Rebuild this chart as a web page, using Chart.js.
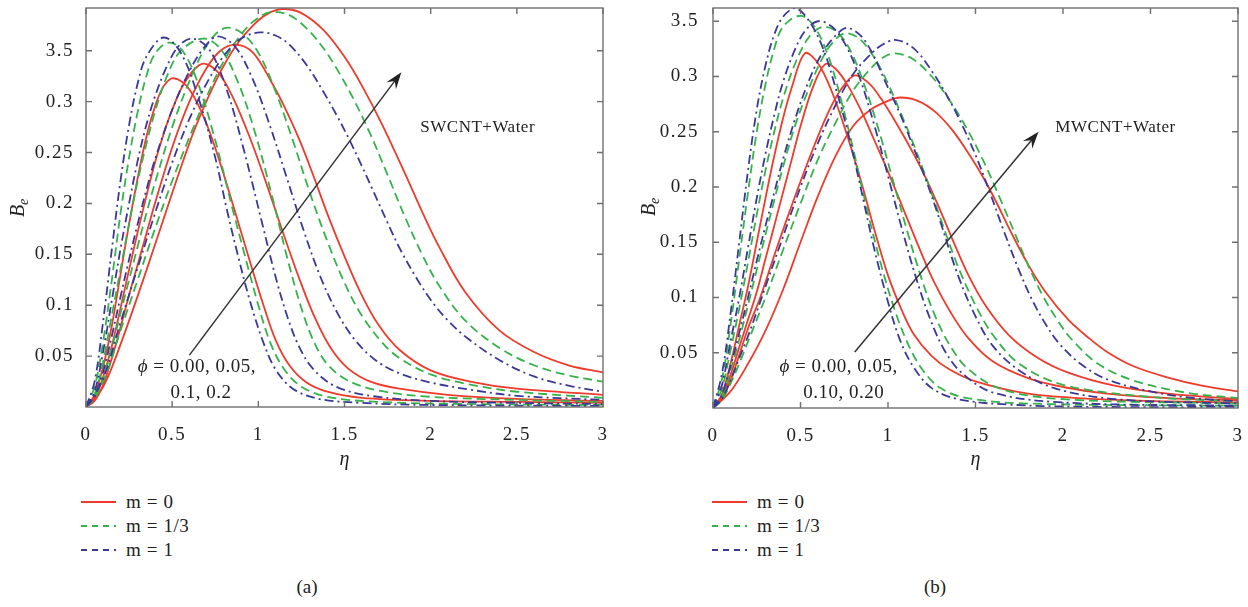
<!DOCTYPE html>
<html>
<head>
<meta charset="utf-8">
<title>Perfiles B_e</title>
<script src="https://cdn.jsdelivr.net/npm/chart.js@4.4.1/dist/chart.umd.min.js"></script>
<style>
  html, body { margin: 0; padding: 0; background: #fff; }
  body { width: 1248px; height: 607px; position: relative; overflow: hidden; font-family: "Liberation Serif", "DejaVu Serif", serif; color: #222; }
  canvas { position: absolute; top: 0; }
  #grafA { left: 0; }
  #grafB { left: 624px; }
  .leyenda { position: absolute; top: 490px; font-size: 19px; letter-spacing: 0.6px; }
  .leyenda div { display: flex; align-items: center; height: 24px; white-space: pre; }
  .leyenda svg { margin-right: 10px; }
  .rotulo { position: absolute; top: 576px; font-size: 19px; width: 40px; text-align: center; }
</style>
</head>
<body>
<canvas id="grafA" width="624" height="475"></canvas>
<canvas id="grafB" width="624" height="475"></canvas>
<div class="leyenda" id="leyendaA" style="left:81px"></div>
<div class="leyenda" id="leyendaB" style="left:712px"></div>
<div class="rotulo" style="left:287px">(a)</div>
<div class="rotulo" style="left:915px">(b)</div>
<script>
// ejes
const etaTicks = [0, 0.5, 1, 1.5, 2, 2.5, 3];
const etaLabels = ["0", "0.5", "1", "1.5", "2", "2.5", "3"];
const beTicks = [0.05, 0.1, 0.15, 0.2, 0.25, 0.3, 0.35];
const beLabels = ["0.05", "0.1", "0.15", "0.2", "0.25", "0.3", "3.5"];
const mLabels = ["m = 0", "m = 1/3", "m = 1"];

// (a) SWCNT+Water  -> pares [eta, Be], phi = 0.00, 0.05, 0.1, 0.2
const a_m0_p0 = [[0,0],[0.05,0.012],[0.1,0.04],[0.15,0.08],[0.2,0.13],[0.25,0.18],[0.3,0.225],[0.35,0.265],[0.4,0.295],[0.45,0.315],[0.51,0.323],[0.6,0.312],[0.7,0.278],[0.8,0.228],[0.9,0.172],[0.96,0.138],[1.03,0.1],[1.1,0.066],[1.18,0.041],[1.28,0.024],[1.4,0.015],[1.6,0.009],[2,0.006],[2.5,0.005],[3,0.004]];
const a_m13_p0 = [[0,0],[0.05,0.02],[0.1,0.065],[0.15,0.125],[0.2,0.19],[0.25,0.245],[0.3,0.29],[0.35,0.325],[0.4,0.347],[0.48,0.358],[0.56,0.35],[0.65,0.318],[0.75,0.262],[0.85,0.195],[0.92,0.15],[1.0,0.1],[1.07,0.063],[1.15,0.037],[1.25,0.02],[1.4,0.01],[1.7,0.005],[2.2,0.003],[3,0.002]];
const a_m1_p0 = [[0,0],[0.05,0.025],[0.1,0.085],[0.15,0.155],[0.2,0.222],[0.25,0.277],[0.3,0.318],[0.35,0.344],[0.45,0.363],[0.55,0.348],[0.65,0.305],[0.75,0.245],[0.82,0.192],[0.88,0.15],[0.95,0.105],[1.03,0.063],[1.1,0.037],[1.2,0.018],[1.35,0.008],[1.6,0.004],[2,0.002],[3,0.001]];

const a_m0_p1 = [[0,0],[0.05,0.008],[0.1,0.03],[0.15,0.06],[0.2,0.097],[0.25,0.135],[0.3,0.172],[0.35,0.207],[0.4,0.24],[0.45,0.268],[0.5,0.292],[0.57,0.318],[0.67,0.337],[0.76,0.33],[0.85,0.305],[0.95,0.265],[1.05,0.218],[1.15,0.168],[1.24,0.125],[1.33,0.087],[1.42,0.058],[1.52,0.038],[1.65,0.025],[1.82,0.018],[2.1,0.012],[2.5,0.008],[3,0.006]];
const a_m13_p1 = [[0,0],[0.05,0.012],[0.1,0.045],[0.15,0.09],[0.2,0.135],[0.25,0.18],[0.3,0.222],[0.35,0.258],[0.4,0.29],[0.47,0.325],[0.55,0.35],[0.68,0.362],[0.78,0.352],[0.88,0.32],[0.98,0.27],[1.08,0.207],[1.17,0.145],[1.25,0.097],[1.32,0.065],[1.4,0.042],[1.52,0.026],[1.7,0.016],[2,0.01],[2.5,0.007],[3,0.005]];
const a_m1_p1 = [[0,0],[0.05,0.015],[0.1,0.055],[0.15,0.105],[0.2,0.155],[0.25,0.2],[0.3,0.242],[0.35,0.277],[0.4,0.305],[0.47,0.335],[0.54,0.355],[0.62,0.362],[0.72,0.35],[0.82,0.31],[0.92,0.25],[1.02,0.182],[1.1,0.128],[1.17,0.088],[1.24,0.058],[1.32,0.037],[1.45,0.02],[1.65,0.011],[2,0.006],[2.5,0.004],[3,0.003]];

const a_m0_p2 = [[0,0],[0.05,0.006],[0.1,0.022],[0.15,0.048],[0.2,0.078],[0.25,0.11],[0.3,0.14],[0.35,0.17],[0.4,0.2],[0.5,0.255],[0.6,0.3],[0.7,0.333],[0.78,0.35],[0.87,0.356],[0.97,0.348],[1.08,0.318],[1.16,0.292],[1.24,0.262],[1.32,0.227],[1.4,0.19],[1.5,0.148],[1.6,0.11],[1.7,0.08],[1.82,0.056],[2.0,0.036],[2.23,0.025],[2.5,0.018],[3,0.012]];
const a_m13_p2 = [[0,0],[0.05,0.008],[0.1,0.028],[0.15,0.058],[0.2,0.092],[0.25,0.125],[0.3,0.158],[0.35,0.19],[0.4,0.22],[0.5,0.275],[0.6,0.32],[0.7,0.355],[0.8,0.372],[0.9,0.368],[1.0,0.348],[1.1,0.31],[1.2,0.262],[1.3,0.21],[1.4,0.163],[1.5,0.122],[1.6,0.09],[1.72,0.063],[1.82,0.048],[2.0,0.032],[2.23,0.022],[2.5,0.015],[3,0.009]];
const a_m1_p2 = [[0,0],[0.05,0.01],[0.1,0.035],[0.15,0.07],[0.2,0.108],[0.25,0.145],[0.3,0.18],[0.35,0.213],[0.4,0.243],[0.5,0.292],[0.6,0.33],[0.68,0.352],[0.76,0.364],[0.86,0.355],[0.96,0.325],[1.06,0.28],[1.16,0.228],[1.26,0.175],[1.36,0.128],[1.46,0.092],[1.56,0.066],[1.68,0.046],[1.82,0.033],[2.0,0.024],[2.23,0.017],[2.5,0.011],[3,0.007]];

const a_m0_p3 = [[0,0],[0.1,0.02],[0.21,0.066],[0.35,0.134],[0.48,0.2],[0.56,0.24],[0.64,0.277],[0.77,0.326],[0.87,0.355],[0.97,0.375],[1.05,0.386],[1.14,0.391],[1.25,0.387],[1.38,0.37],[1.5,0.344],[1.6,0.316],[1.72,0.277],[1.86,0.226],[1.95,0.192],[2.05,0.157],[2.2,0.113],[2.4,0.075],[2.6,0.054],[2.8,0.041],[3,0.034]];
const a_m13_p3 = [[0,0],[0.1,0.025],[0.2,0.075],[0.3,0.125],[0.4,0.175],[0.5,0.222],[0.6,0.265],[0.7,0.305],[0.8,0.34],[0.9,0.366],[0.98,0.38],[1.07,0.388],[1.18,0.385],[1.28,0.372],[1.38,0.352],[1.47,0.328],[1.56,0.3],[1.65,0.268],[1.75,0.228],[1.85,0.187],[1.95,0.15],[2.05,0.119],[2.2,0.085],[2.4,0.058],[2.6,0.041],[2.8,0.031],[3,0.025]];
const a_m1_p3 = [[0,0],[0.1,0.028],[0.2,0.083],[0.3,0.137],[0.4,0.19],[0.5,0.24],[0.6,0.283],[0.7,0.318],[0.8,0.345],[0.9,0.362],[1.01,0.368],[1.1,0.365],[1.18,0.356],[1.28,0.336],[1.38,0.309],[1.46,0.285],[1.53,0.262],[1.6,0.237],[1.67,0.211],[1.75,0.181],[1.82,0.156],[1.92,0.126],[2.01,0.103],[2.1,0.085],[2.21,0.068],[2.4,0.046],[2.6,0.03],[2.8,0.021],[3,0.015]];

// (b) MWCNT+Water, phi = 0.00, 0.05, 0.10, 0.20
const b_m0_p0 = [[0,0],[0.05,0.012],[0.1,0.04],[0.15,0.075],[0.2,0.11],[0.25,0.15],[0.3,0.19],[0.35,0.228],[0.4,0.262],[0.45,0.29],[0.525,0.321],[0.6,0.312],[0.68,0.286],[0.76,0.25],[0.85,0.203],[0.93,0.157],[1.0,0.12],[1.08,0.088],[1.15,0.066],[1.25,0.047],[1.35,0.035],[1.5,0.024],[1.8,0.013],[2.2,0.008],[2.6,0.006],[3,0.005]];
const b_m13_p0 = [[0,0],[0.05,0.025],[0.1,0.075],[0.15,0.135],[0.2,0.195],[0.25,0.25],[0.3,0.293],[0.35,0.325],[0.4,0.345],[0.5,0.355],[0.58,0.345],[0.66,0.318],[0.73,0.28],[0.8,0.235],[0.88,0.18],[0.96,0.13],[1.04,0.088],[1.12,0.056],[1.2,0.034],[1.3,0.018],[1.45,0.009],[1.8,0.004],[3,0.002]];
const b_m1_p0 = [[0,0],[0.05,0.03],[0.1,0.085],[0.15,0.15],[0.2,0.215],[0.25,0.27],[0.3,0.31],[0.35,0.338],[0.4,0.354],[0.47,0.362],[0.55,0.35],[0.63,0.325],[0.7,0.29],[0.77,0.25],[0.85,0.195],[0.92,0.145],[1.0,0.096],[1.07,0.061],[1.15,0.036],[1.25,0.018],[1.4,0.008],[1.7,0.003],[2.2,0.001],[3,0.001]];

const b_m0_p1 = [[0,0],[0.05,0.01],[0.1,0.03],[0.15,0.055],[0.2,0.08],[0.25,0.105],[0.3,0.135],[0.35,0.165],[0.4,0.195],[0.45,0.225],[0.5,0.255],[0.57,0.29],[0.64,0.311],[0.7,0.307],[0.77,0.292],[0.85,0.268],[0.92,0.243],[1.0,0.214],[1.08,0.183],[1.17,0.148],[1.26,0.115],[1.36,0.086],[1.46,0.063],[1.6,0.042],[1.8,0.027],[2.0,0.019],[2.25,0.013],[2.6,0.009],[3,0.007]];
const b_m13_p1 = [[0,0],[0.05,0.017],[0.1,0.052],[0.15,0.09],[0.2,0.132],[0.25,0.175],[0.3,0.215],[0.35,0.25],[0.4,0.28],[0.47,0.312],[0.55,0.336],[0.63,0.345],[0.71,0.34],[0.79,0.322],[0.87,0.29],[0.95,0.25],[1.03,0.205],[1.11,0.16],[1.19,0.118],[1.27,0.083],[1.36,0.055],[1.46,0.035],[1.65,0.017],[2,0.008],[3,0.004]];
const b_m1_p1 = [[0,0],[0.05,0.02],[0.1,0.06],[0.15,0.1],[0.2,0.145],[0.25,0.19],[0.3,0.23],[0.35,0.265],[0.4,0.295],[0.47,0.325],[0.53,0.342],[0.6,0.35],[0.68,0.345],[0.76,0.328],[0.84,0.298],[0.92,0.257],[1.0,0.21],[1.08,0.162],[1.16,0.118],[1.24,0.081],[1.32,0.053],[1.42,0.032],[1.6,0.014],[2,0.005],[3,0.002]];

const b_m0_p2 = [[0,0],[0.05,0.008],[0.1,0.025],[0.15,0.048],[0.2,0.072],[0.27,0.1],[0.35,0.138],[0.42,0.17],[0.5,0.205],[0.58,0.238],[0.66,0.268],[0.73,0.288],[0.81,0.301],[0.89,0.294],[0.96,0.28],[1.05,0.257],[1.15,0.229],[1.22,0.207],[1.29,0.182],[1.37,0.152],[1.46,0.12],[1.56,0.092],[1.69,0.066],[1.85,0.046],[2.03,0.032],[2.3,0.02],[2.6,0.013],[3,0.008]];
const b_m13_p2 = [[0,0],[0.05,0.01],[0.1,0.034],[0.15,0.062],[0.2,0.093],[0.25,0.125],[0.3,0.157],[0.35,0.188],[0.4,0.218],[0.47,0.256],[0.55,0.29],[0.62,0.315],[0.68,0.33],[0.75,0.339],[0.83,0.335],[0.91,0.32],[0.99,0.297],[1.07,0.268],[1.15,0.237],[1.23,0.203],[1.31,0.167],[1.4,0.128],[1.5,0.093],[1.6,0.066],[1.75,0.04],[2.0,0.021],[2.5,0.01],[3,0.006]];
const b_m1_p2 = [[0,0],[0.05,0.012],[0.1,0.038],[0.15,0.068],[0.2,0.1],[0.25,0.133],[0.3,0.165],[0.35,0.195],[0.4,0.225],[0.47,0.262],[0.55,0.297],[0.62,0.32],[0.7,0.337],[0.77,0.344],[0.87,0.332],[1.0,0.29],[1.08,0.262],[1.15,0.234],[1.22,0.205],[1.29,0.173],[1.4,0.12],[1.5,0.083],[1.6,0.056],[1.75,0.034],[1.95,0.018],[2.3,0.008],[3,0.004]];

const b_m0_p3 = [[0,0],[0.1,0.015],[0.2,0.04],[0.3,0.07],[0.4,0.107],[0.5,0.15],[0.6,0.192],[0.7,0.228],[0.8,0.255],[0.9,0.27],[1.0,0.278],[1.07,0.281],[1.17,0.278],[1.27,0.268],[1.37,0.251],[1.47,0.228],[1.55,0.207],[1.62,0.186],[1.7,0.16],[1.8,0.13],[1.9,0.105],[2.03,0.08],[2.15,0.063],[2.25,0.051],[2.4,0.038],[2.59,0.028],[2.8,0.02],[3,0.015]];
const b_m13_p3 = [[0,0],[0.05,0.007],[0.1,0.022],[0.15,0.04],[0.2,0.06],[0.25,0.08],[0.3,0.1],[0.4,0.143],[0.5,0.185],[0.6,0.225],[0.7,0.258],[0.8,0.287],[0.9,0.307],[0.97,0.317],[1.04,0.321],[1.14,0.316],[1.25,0.3],[1.35,0.279],[1.45,0.253],[1.55,0.222],[1.65,0.186],[1.73,0.156],[1.81,0.126],[1.89,0.1],[1.97,0.079],[2.05,0.062],[2.2,0.04],[2.4,0.025],[2.7,0.014],[3,0.009]];
const b_m1_p3 = [[0,0],[0.05,0.008],[0.1,0.025],[0.15,0.045],[0.2,0.065],[0.25,0.087],[0.3,0.11],[0.4,0.155],[0.5,0.2],[0.6,0.24],[0.7,0.274],[0.8,0.302],[0.9,0.32],[0.97,0.329],[1.05,0.333],[1.15,0.325],[1.25,0.305],[1.35,0.279],[1.43,0.254],[1.5,0.229],[1.58,0.196],[1.66,0.161],[1.74,0.128],[1.82,0.099],[1.9,0.076],[1.98,0.058],[2.1,0.04],[2.25,0.026],[2.5,0.015],[2.75,0.009],[3,0.006]];

const colores = ["#ee3b2b", "#36b24b", "#3b3898"];
const trazos = [[], [9, 5], [9, 4, 2, 4]];
const fuente = "'Liberation Serif', 'DejaVu Serif', serif";

function serie(puntos, m) {
  return {
    label: mLabels[m],
    data: puntos.map(([x, y]) => ({ x, y })),
    borderColor: colores[m],
    borderDash: trazos[m],
    borderWidth: 1.8,
    pointRadius: 0,
    fill: false,
    tension: 0.35
  };
}

// letras algo mas anchas, como en la figura original
const espaciado = {
  id: "espaciado",
  beforeDraw(chart) { chart.ctx.letterSpacing = "1.5px"; }
};

// marco, marcas hacia dentro, flechas, textos y titulos de ejes
const decorado = {
  id: "decorado",
  afterDatasetsDraw(chart, args, opts) {
    const { ctx, chartArea: a, scales: { x, y } } = chart;
    ctx.save();
    ctx.setLineDash([]);
    ctx.strokeStyle = "#6f6f6f";
    ctx.lineWidth = 1.4;
    ctx.strokeRect(a.left, a.top, a.right - a.left, a.bottom - a.top);
    ctx.beginPath();
    etaTicks.forEach(v => {
      const px = x.getPixelForValue(v);
      ctx.moveTo(px, a.bottom); ctx.lineTo(px, a.bottom - 6);
      ctx.moveTo(px, a.top); ctx.lineTo(px, a.top + 6);
    });
    beTicks.forEach(v => {
      const py = y.getPixelForValue(v);
      ctx.moveTo(a.left, py); ctx.lineTo(a.left + 6, py);
      ctx.moveTo(a.right, py); ctx.lineTo(a.right - 6, py);
    });
    ctx.stroke();

    // flecha
    const x0 = x.getPixelForValue(opts.flecha[0][0]), y0 = y.getPixelForValue(opts.flecha[0][1]);
    const x1 = x.getPixelForValue(opts.flecha[1][0]), y1 = y.getPixelForValue(opts.flecha[1][1]);
    const c = Math.cos(Math.atan2(y1 - y0, x1 - x0)), s = Math.sin(Math.atan2(y1 - y0, x1 - x0));
    ctx.strokeStyle = "#333";
    ctx.fillStyle = "#222";
    ctx.lineWidth = 1.5;
    ctx.beginPath();
    ctx.moveTo(x0, y0);
    ctx.lineTo(x1 - 9 * c, y1 - 9 * s);
    ctx.stroke();
    ctx.beginPath();
    ctx.moveTo(x1, y1);
    ctx.lineTo(x1 - 17 * c + 6 * s, y1 - 17 * s - 6 * c);
    ctx.lineTo(x1 - 11 * c, y1 - 11 * s);
    ctx.lineTo(x1 - 17 * c - 6 * s, y1 - 17 * s + 6 * c);
    ctx.closePath();
    ctx.fill();

    // textos
    ctx.letterSpacing = "0.5px";
    ctx.textBaseline = "middle";
    ctx.textAlign = "left";
    opts.textos.forEach(t => {
      let px = x.getPixelForValue(t.en[0]);
      const py = y.getPixelForValue(t.en[1]);
      t.partes.forEach(p => {
        ctx.font = (p.cursiva ? "italic " : "") + t.tam + "px " + fuente;
        ctx.fillText(p.txt, px, py);
        px += ctx.measureText(p.txt).width;
      });
    });

    // titulos
    ctx.letterSpacing = "0px";
    ctx.fillStyle = "#222";
    ctx.textAlign = "center";
    ctx.font = "italic 20px " + fuente;
    ctx.fillText("η", (a.left + a.right) / 2, opts.etaY);
    ctx.translate(opts.beX, opts.beY);
    ctx.rotate(-Math.PI / 2);
    ctx.textAlign = "left";
    ctx.font = "italic 20px " + fuente;
    const wB = ctx.measureText("B").width;
    ctx.fillText("B", -wB / 2 - 3, 0);
    ctx.font = "italic 14px " + fuente;
    ctx.fillText("e", wB / 2 - 3, 5);
    ctx.restore();
  }
};

function crearGrafico(id, grupos, yMax, anchoY, altoX, pad, padTickY, deco) {
  const series = [];
  [2, 1, 0].forEach(m => grupos[m].forEach(p => series.push(serie(p, m))));
  return new Chart(document.getElementById(id), {
    type: "line",
    data: { datasets: series },
    options: {
      responsive: false,
      animation: false,
      layout: { padding: pad },
      plugins: { legend: { display: false }, tooltip: { enabled: false }, decorado: deco },
      scales: {
        x: {
          type: "linear", min: 0, max: 3,
          afterBuildTicks: s => { s.ticks = etaTicks.map(v => ({ value: v })); },
          afterFit: s => { s.height = altoX; s.paddingLeft = 0; s.paddingRight = 0; },
          ticks: { callback: v => etaLabels[etaTicks.indexOf(v)], font: { family: fuente, size: 19 }, color: "#222", padding: 9, maxRotation: 0, autoSkip: false },
          grid: { display: false },
          border: { display: false }
        },
        y: {
          type: "linear", min: 0, max: yMax,
          afterBuildTicks: s => { s.ticks = beTicks.map(v => ({ value: v })); },
          afterFit: s => { s.width = anchoY; s.paddingTop = 0; s.paddingBottom = 0; },
          ticks: { callback: v => beLabels[beTicks.indexOf(v)], font: { family: fuente, size: 19 }, color: "#222", padding: padTickY, autoSkip: false },
          grid: { display: false },
          border: { display: false }
        }
      }
    },
    plugins: [espaciado, decorado]
  });
}

crearGrafico("grafA",
  [[a_m0_p0, a_m0_p1, a_m0_p2, a_m0_p3], [a_m13_p0, a_m13_p1, a_m13_p2, a_m13_p3], [a_m1_p0, a_m1_p1, a_m1_p2, a_m1_p3]],
  0.392, 86, 68, { top: 8, right: 21, left: 0, bottom: 0 }, 4,
  {
    flecha: [[0.6, 0.051], [1.83, 0.329]],
    etaY: 460, beX: 19, beY: 208,
    textos: [
      { en: [1.94, 0.2745], tam: 17, partes: [{ txt: "SWCNT+Water" }] },
      { en: [0.30, 0.039], tam: 19, partes: [{ txt: "ϕ", cursiva: true }, { txt: " = 0.00, 0.05," }] },
      { en: [0.49, 0.0137], tam: 19, partes: [{ txt: "0.1, 0.2" }] }
    ]
  });

crearGrafico("grafB",
  [[b_m0_p0, b_m0_p1, b_m0_p2, b_m0_p3], [b_m13_p0, b_m13_p1, b_m13_p2, b_m13_p3], [b_m1_p0, b_m1_p1, b_m1_p2, b_m1_p3]],
  0.362, 89, 67, { top: 8, right: 10, left: 0, bottom: 0 }, 6,
  {
    flecha: [[0.81, 0.0506], [1.86, 0.25]],
    etaY: 460, beX: 26, beY: 207,
    textos: [
      { en: [1.956, 0.254], tam: 17, partes: [{ txt: "MWCNT+Water" }] },
      { en: [0.38, 0.037], tam: 19, partes: [{ txt: "ϕ", cursiva: true }, { txt: " = 0.00, 0.05," }] },
      { en: [0.515, 0.0136], tam: 19, partes: [{ txt: "0.10, 0.20" }] }
    ]
  });

// leyendas en HTML
function leyenda(id) {
  const caja = document.getElementById(id);
  mLabels.forEach((txt, m) => {
    const fila = document.createElement("div");
    const dash = m === 0 ? "" : "6 5";
    fila.innerHTML = `<svg width="35" height="6"><line x1="0" y1="3" x2="35" y2="3" stroke="${colores[m]}" stroke-width="1.8" stroke-dasharray="${dash}"/></svg><span>${txt}</span>`;
    caja.appendChild(fila);
  });
}
leyenda("leyendaA");
leyenda("leyendaB");
</script>
</body>
</html>
